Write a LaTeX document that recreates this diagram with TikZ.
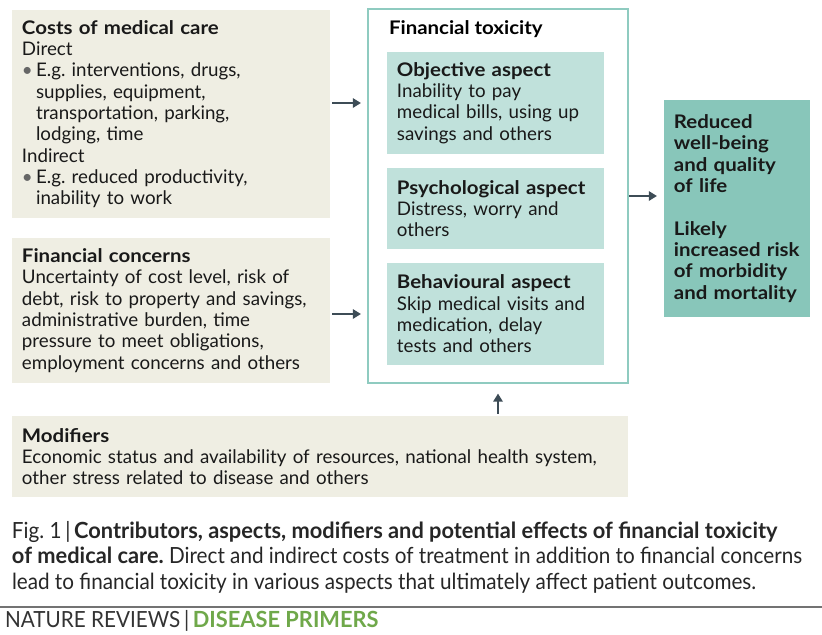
\documentclass[tikz,border=0pt]{standalone}
\usepackage{fontspec}
\setmainfont{Lato}[BoldFeatures={FakeStretch=1.09}]
\newfontfamily\capfont{Lato}[FakeStretch=0.93,BoldFeatures={FakeStretch=0.98}]
\usetikzlibrary{positioning,arrows.meta}
\frenchspacing

\definecolor{boxbeige}{HTML}{EFEEE3}
\definecolor{aspectteal}{HTML}{C0E1DB}
\definecolor{frameteal}{HTML}{8FCBC0}
\definecolor{outteal}{HTML}{88C6BA}
\definecolor{arrowgrey}{HTML}{3D4C56}
\definecolor{natgreen}{HTML}{6FA84A}

\newcommand{\bodyfont}{\fontsize{16}{18.2}\selectfont}
\newcommand{\bul}{\makebox[0.75em][l]{\textcolor{black!60}{\textbullet}}}
\newcommand{\ind}{\hspace*{0.75em}}

\begin{document}
\begin{tikzpicture}[x=0.03cm,y=-0.03cm,
  every node/.style={inner sep=0pt,outer sep=0pt},
  plainbox/.style={align=left,inner xsep=8.5pt,font=\bodyfont,text=black!90},
  beigebox/.style={plainbox,fill=boxbeige},
  aspectbox/.style={plainbox,fill=aspectteal,text width=168.2pt,minimum height=#1},
  arr/.style={draw=arrowgrey,line width=2.3pt,-{Triangle[length=7pt,width=8pt]}}]

\useasboundingbox (0,0) rectangle (822,634);

%Contributors
\node[beigebox,text width=254.4pt,minimum height=177.5pt] (costs) at (171,114)
  {{\bfseries Costs of medical care}\\
   Direct\\
   \bul E.g. interventions, drugs,\\
   \ind supplies, equipment,\\
   \ind transportation, parking,\\
   \ind lodging, time\\
   Indirect\\
   \bul E.g. reduced productivity,\\
   \ind inability to work};
\node[beigebox,text width=254.4pt,minimum height=123.8pt] (concerns) at (171,310.5)
  {{\bfseries Financial concerns}\\
   Uncertainty of cost level, risk of\\
   debt, risk to property and savings,\\
   administrative burden, time\\
   pressure to meet obligations,\\
   employment concerns and others};
\node[beigebox,text width=508.8pt,minimum height=69.1pt] (mod) at (320,456.5)
  {{\bfseries Modifiers}\\
   Economic status and availability of resources, national health system,\\
   other stress related to disease and others};

%Financial toxicity
\node[draw=frameteal,line width=2.5pt,minimum width=221.9pt,minimum height=319.2pt] (tox) at (498,196) {};
\node[anchor=west,font=\bodyfont\bfseries] (toxtitle) at (389,29) {Financial toxicity};
\node[aspectbox=87.1pt] (obj) at (495.5,103)
  {{\bfseries Objective aspect}\\
   Inability to pay\\
   medical bills, using up\\
   savings and others};
\node[aspectbox=69.1pt] (psy) at (495.5,208.5)
  {{\bfseries Psychological aspect}\\
   Distress, worry and\\
   others};
\node[aspectbox=87.1pt] (beh) at (495.5,314)
  {{\bfseries Behavioural aspect}\\
   Skip medical visits and\\
   medication, delay\\
   tests and others};

%Outcomes
\node[plainbox,fill=outteal,text width=107.6pt,minimum height=185.2pt,font=\bodyfont\bfseries] (out) at (737,208.5)
  {Reduced\\
   well-being\\
   and quality\\
   of life\\[18.2pt]
   Likely\\
   increased risk\\
   of morbidity\\
   and mortality};

%Arrows
\draw[arr,shorten <=2pt,shorten >=6pt] (costs.east |- obj.west) -- (tox.west |- obj.west);
\draw[arr,shorten <=2pt,shorten >=6pt] (concerns.east |- beh.west) -- (tox.west |- beh.west);
\draw[arr,shorten <=1pt,shorten >=6pt] (tox.east) -- (tox.east -| out.west);
\draw[arr,shorten <=2pt,shorten >=9pt] (tox.south |- mod.north) -- (tox.south);

%Caption
\node[anchor=north west,align=left,font=\capfont\fontsize{19}{22}\selectfont,text=black!85] (caption) at (12,521)
  {Fig. 1\,|\,\textbf{Contributors, aspects, modifiers and potential effects of financial toxicity}\\
   \textbf{of medical care.} Direct and indirect costs of treatment in addition to financial concerns\\
   lead to financial toxicity in various aspects that ultimately affect patient outcomes.};
\coordinate (ruleleft) at (0,607);
\coordinate (ruleright) at (822,607);
\draw[black!55,line width=1.2pt] (ruleleft) -- (ruleright);
\node[anchor=west,font=\capfont\fontsize{19}{21}\selectfont,text=black!80] (journal) at (5,621)
  {NATURE REVIEWS\,|\,\textcolor{natgreen}{\bfseries DISEASE PRIMERS}};

\end{tikzpicture}
\end{document}
